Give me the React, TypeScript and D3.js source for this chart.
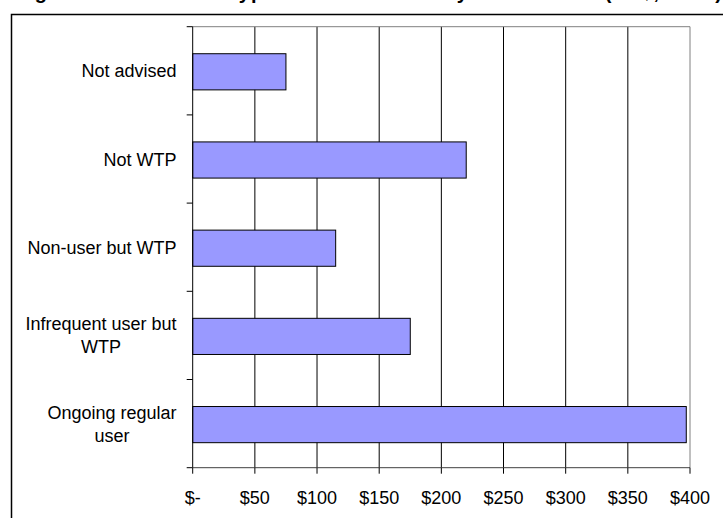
import React from "react";
import * as d3 from "d3";

const categories = [
  "Not advised",
  "Not WTP",
  "Non-user but WTP",
  "Infrequent user but WTP",
  "Ongoing regular user",
];
const values = [75, 220, 115, 175, 397];
const xTicks = [0, 50, 100, 150, 200, 250, 300, 350, 400];
const xTickLabels = ["$-", "$50", "$100", "$150", "$200", "$250", "$300", "$350", "$400"];
const titleText = "Figure 4: Estimated Typical Annual Cost by User Status (NZ$, 2006)";

const W = 723;
const H = 518;
const FONT = "Arial, 'Liberation Sans', sans-serif";
const FS = 18;

function wrap(text: string, maxW: number): string[] {
  const c = document.createElement("canvas").getContext("2d");
  if (!c) return [text];
  c.font = `${FS}px Arial, 'Liberation Sans', sans-serif`;
  const words = text.split(" ");
  const lines: string[] = [];
  let cur = "";
  for (const w of words) {
    const test = cur ? cur + " " + w : w;
    if (c.measureText(test).width > maxW && cur) {
      lines.push(cur);
      cur = w;
    } else cur = test;
  }
  if (cur) lines.push(cur);
  return lines;
}

function measure(text: string): number {
  const c = document.createElement("canvas").getContext("2d");
  if (!c) return text.length * 9;
  c.font = `${FS}px Arial, 'Liberation Sans', sans-serif`;
  return c.measureText(text).width;
}

export default function App() {
  const x = d3.scaleLinear().domain([0, 400]).range([192.7, 690]);
  const y = d3.scaleBand<string>().domain(categories).range([26.7, 467.7]).padding(0);
  const bw = y.bandwidth();
  const barH = bw * 0.41;
  const [x0, x1] = x.range();
  const [y0, y1] = y.range();
  const labelRight = 176.5;

  return (
    <svg
      width={W}
      height={H}
      style={{ position: "absolute", left: 0, top: 0, background: "#fff" }}
      fontFamily={FONT}
    >
      <rect x={0} y={0} width={W} height={H} fill="#fff" />
      {/* cropped title (the reference shows only its lowest pixels) */}
      <text
        x={15}
        y={-1.5}
        fontSize={20}
        fontWeight="bold"
        textLength={707}
        lengthAdjust="spacing"
      >
        {titleText}
      </text>
      {/* outer frame */}
      <rect x={11.5} y={14.5} width={W + 20} height={H + 20} fill="none" stroke="#000" strokeWidth={1.5} />

      {/* gridlines */}
      {xTicks.map((t) =>
        t === 0 ? null : (
          <line
            key={"g" + t}
            x1={x(t)}
            x2={x(t)}
            y1={y0}
            y2={y1}
            stroke={t === 400 ? "#808080" : "#000"}
            strokeWidth={1}
          />
        )
      )}
      {/* plot top border */}
      <line x1={x0} x2={x1} y1={y0} y2={y0} stroke="#808080" strokeWidth={1} />

      {/* bars */}
      {categories.map((c, i) => {
        const cy = (y(c) as number) + bw / 2 + 1;
        return (
          <rect
            key={c}
            x={x(0)}
            y={cy - barH / 2}
            width={x(values[i]) - x(0)}
            height={barH}
            fill="#9999FF"
            stroke="#000"
            strokeWidth={1}
          />
        );
      })}

      {/* y axis */}
      <line x1={x0} x2={x0} y1={y0} y2={y1} stroke="#000" strokeWidth={1} />
      {categories.map((c) => (
        <line key={"yt" + c} x1={x0 - 6} x2={x0} y1={y(c)} y2={y(c)} stroke="#000" strokeWidth={1} />
      ))}
      <line x1={x0 - 6} x2={x0} y1={y1} y2={y1} stroke="#000" strokeWidth={1} />

      {/* x axis */}
      <line x1={x0} x2={x1} y1={y1} y2={y1} stroke="#404040" strokeWidth={1} />
      {xTicks.map((t) => (
        <line key={"xt" + t} x1={x(t)} x2={x(t)} y1={y1} y2={y1 + 6} stroke="#000" strokeWidth={1} />
      ))}
      {xTicks.map((t, i) => (
        <text key={"xl" + t} x={x(t)} y={504} fontSize={FS} textAnchor="middle" fill="#000">
          {xTickLabels[i]}
        </text>
      ))}

      {/* category labels */}
      {categories.map((c) => {
        const lines = wrap(c, 155);
        const cy = (y(c) as number) + bw / 2;
        const maxW = Math.max(...lines.map(measure));
        const centerX = labelRight - maxW / 2;
        const lh = 23;
        const base = cy + 6.5 - ((lines.length - 1) * lh) / 2;
        return lines.map((ln, k) => (
          <text
            key={c + k}
            x={lines.length === 1 ? labelRight : centerX}
            y={base + k * lh}
            fontSize={FS}
            textAnchor={lines.length === 1 ? "end" : "middle"}
            fill="#000"
          >
            {ln}
          </text>
        ));
      })}
    </svg>
  );
}
